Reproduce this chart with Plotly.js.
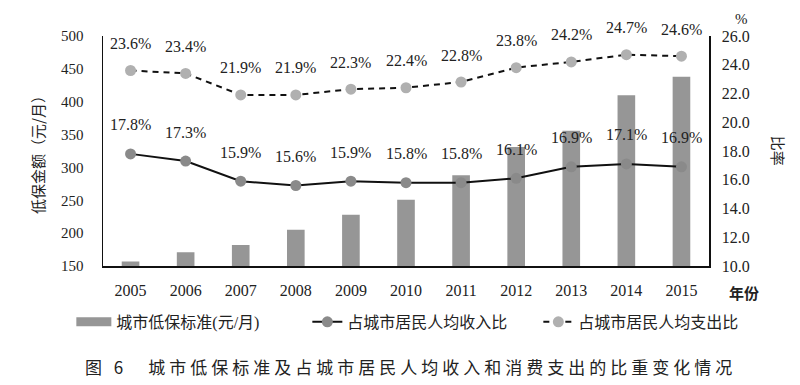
<!DOCTYPE html>
<html>
<head>
<meta charset="utf-8">
<script src="https://cdn.plot.ly/plotly-3.0.1.min.js"></script>
<style>
html,body{margin:0;padding:0;background:#fff;}
#chart{width:800px;height:385px;}
</style>
</head>
<body>
<div id="chart"></div>
<script>
const years = [2005, 2006, 2007, 2008, 2009, 2010, 2011, 2012, 2013, 2014, 2015];
const dibaoStandard = [157, 171, 182, 205, 228, 251, 288, 331, 356, 410, 438];
const incomeRatio = [17.8, 17.3, 15.9, 15.6, 15.9, 15.8, 15.8, 16.1, 16.9, 17.1, 16.9];
const expenditureRatio = [23.6, 23.4, 21.9, 21.9, 22.3, 22.4, 22.8, 23.8, 24.2, 24.7, 24.6];
const seriesNames = ['城市低保标准(元/月)', '占城市居民人均收入比', '占城市居民人均支出比'];

const serif = 'Liberation Serif, Times New Roman, Noto Sans CJK SC, serif';
const cjk = 'Noto Sans CJK SC, sans-serif';

const traces = [
  {
    type: 'bar', x: years, y: dibaoStandard, name: seriesNames[0],
    marker: {color: '#969696'}, yaxis: 'y'
  },
  {
    type: 'scatter', mode: 'lines+markers', x: years, y: incomeRatio, name: seriesNames[1],
    yaxis: 'y2', line: {color: '#111', width: 2},
    marker: {color: '#8a8a8a', size: 11}
  },
  {
    type: 'scatter', mode: 'lines+markers', x: years, y: expenditureRatio, name: seriesNames[2],
    yaxis: 'y2', line: {color: '#111', width: 2, dash: '6px,5px'},
    marker: {color: '#b0b0b0', size: 11}
  }
];

const annotations = [];
incomeRatio.forEach((v, i) => annotations.push({
  x: years[i], y: v, xref: 'x', yref: 'y2', text: v.toFixed(1) + '%', showarrow: false,
  xanchor: 'center', yanchor: 'middle',
  yshift: 29, font: {family: serif, size: 16, color: '#222'}
}));
expenditureRatio.forEach((v, i) => annotations.push({
  x: years[i], y: v, xref: 'x', yref: 'y2', text: v.toFixed(1) + '%', showarrow: false,
  xanchor: 'center', yanchor: 'middle',
  yshift: 27, font: {family: serif, size: 16, color: '#222'}
}));
const paperText = (x, y, text, font, extra) => Object.assign({
  x: x, y: y, xref: 'paper', yref: 'paper', text: text, showarrow: false,
  xanchor: 'center', yanchor: 'middle', font: font
}, extra || {});
annotations.push(
  paperText(-0.109, 0.5, '低保金额（元/月）', {family: cjk, size: 15, color: '#222'}, {textangle: -90}),
  paperText(1.116, 0.5, '比率', {family: cjk, size: 15, color: '#222'}, {textangle: 90}),
  paperText(1.053, 1.074, '%', {family: serif, size: 15, color: '#222'}),
  paperText(1.058, -0.117, '<b>年份</b>', {family: cjk, size: 15, color: '#222'}),
  paperText(0.507, -0.439, '图 6　城市低保标准及占城市居民人均收入和消费支出的比重变化情况',
            {family: cjk, size: 17, color: '#222'})
);

const layout = {
  width: 800, height: 385,
  margin: {l: 103, r: 91, t: 36, b: 119},
  paper_bgcolor: '#fff', plot_bgcolor: '#fff',
  showlegend: true,
  bargap: 0.68,
  legend: {orientation: 'h', x: -0.044, y: -0.243, xanchor: 'left', yanchor: 'middle',
           font: {family: serif, size: 16, color: '#222'}, itemwidth: 30, entrywidth: 186,
           traceorder: 'normal'},
  xaxis: {
    type: 'linear', range: [2004.5, 2015.5], tickmode: 'array', tickvals: years,
    ticktext: years.map(String),
    showline: true, linecolor: '#111', linewidth: 1.5,
    ticks: '', showgrid: false, zeroline: false, ticklabelstandoff: 9,
    tickfont: {family: serif, size: 16, color: '#222'}
  },
  yaxis: {
    range: [150, 500], dtick: 50, showline: true, linecolor: '#111', linewidth: 1.5,
    ticks: '', showgrid: false, zeroline: false, ticklabelstandoff: 15,
    tickfont: {family: serif, size: 15, color: '#222'}
  },
  yaxis2: {
    overlaying: 'y', side: 'right', range: [10, 26], dtick: 2, tickformat: '.1f',
    showline: true, linecolor: '#111', linewidth: 1.5,
    ticks: '', showgrid: false, zeroline: false, ticklabelstandoff: 8,
    tickfont: {family: serif, size: 16, color: '#222'}
  },
  annotations: annotations
};

Plotly.newPlot('chart', traces, layout, {displayModeBar: false, staticPlot: true}).then(() => {
  const anns = document.querySelectorAll('g.annotation');
  const last = anns[anns.length - 1];
  if (last) last.querySelectorAll('text').forEach(t => t.style.letterSpacing = '4px');
  // widen the bar legend swatch to a flat rectangle like the reference
  const barSwatch = document.querySelector('.legend .traces .legendpoints path.legendundefined, .legend .traces .legendpoints path');
  if (barSwatch) barSwatch.setAttribute('d', 'M-22,-4.5H15V4.5H-22Z');
});
</script>
</body>
</html>
